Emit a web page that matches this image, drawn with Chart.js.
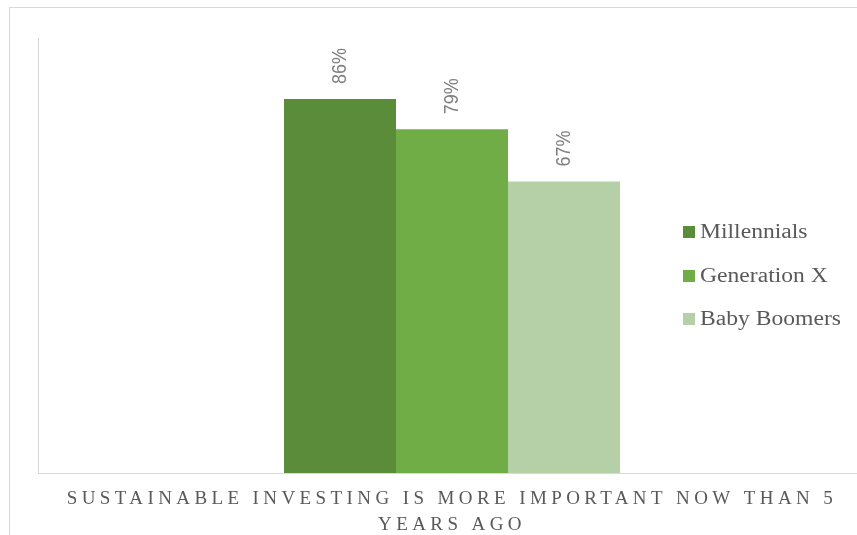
<!DOCTYPE html>
<html>
<head>
<meta charset="utf-8">
<script src="https://cdn.jsdelivr.net/npm/chart.js@4.4.1/dist/chart.umd.min.js"></script>
<style>
  html, body { margin: 0; padding: 0; background: #ffffff; }
  #wrap { position: relative; width: 857px; height: 535px; overflow: hidden; background: #ffffff; }
  #frame { position: absolute; left: 9px; top: 7px; width: 1000px; height: 1000px;
           border-left: 1px solid #d9d9d9; border-top: 1px solid #d9d9d9; box-sizing: border-box; }
  #c { position: absolute; left: 0; top: 0; }
  .lg-box { position: absolute; width: 12px; height: 12px; }
  .lg-text { position: absolute; font-family: "Liberation Serif", "Times New Roman", serif; font-size: 20px;
             line-height: 20px; color: #595959; white-space: nowrap; transform: scaleX(1.18); transform-origin: 0 0; }
</style>
</head>
<body>
<div id="wrap">
  <div id="frame"></div>
  <canvas id="c" width="866" height="552"></canvas>
  <div id="legend"></div>
</div>
<script>
// ---- data ----
const categoryLines = ['SUSTAINABLE INVESTING IS MORE IMPORTANT NOW THAN 5', 'YEARS AGO'];
const seriesNames = ['Millennials', 'Generation X', 'Baby Boomers'];
const millennials = [86];
const generationX = [79];
const babyBoomers = [67];

// ---- styles ----
const seriesColors = ['#5b8c39', '#70ad47', '#b5cfa6'];
const seriesValues = [millennials, generationX, babyBoomers];

// legend (HTML text)
const legendEl = document.getElementById('legend');
const legendBaselines = [238, 281.5, 325];
seriesNames.forEach((name, i) => {
  const box = document.createElement('div');
  box.className = 'lg-box';
  box.style.left = '683px';
  box.style.top = (legendBaselines[i] - 12) + 'px';
  box.style.background = seriesColors[i];
  legendEl.appendChild(box);
  const t = document.createElement('div');
  t.className = 'lg-text';
  t.style.left = '700px';
  t.style.top = (legendBaselines[i] - 16.75) + 'px';
  t.textContent = name;
  legendEl.appendChild(t);
});

const spacingPlugin = {
  id: 'spacing',
  beforeDraw(chart) { chart.ctx.letterSpacing = '4.4px'; },
  beforeDatasetsDraw(chart) { chart.ctx.letterSpacing = '0px'; }
};

const valueLabelPlugin = {
  id: 'valueLabels',
  afterDatasetsDraw(chart) {
    const ctx = chart.ctx;
    ctx.save();
    ctx.letterSpacing = '0px';
    ctx.font = '18px "Liberation Sans", Arial, sans-serif';
    ctx.fillStyle = '#7f7f7f';
    ctx.textAlign = 'left';
    ctx.textBaseline = 'middle';
    chart.data.datasets.forEach((ds, i) => {
      const meta = chart.getDatasetMeta(i);
      meta.data.forEach((bar, j) => {
        ctx.save();
        ctx.translate(bar.x, bar.y - 15);
        ctx.rotate(-Math.PI / 2);
        ctx.scale(1, 1.15);
        ctx.fillText(ds.data[j] + '%', 0, 0);
        ctx.restore();
      });
    });
    ctx.restore();
  }
};

new Chart(document.getElementById('c'), {
  type: 'bar',
  data: {
    labels: [categoryLines],
    datasets: seriesNames.map((name, i) => ({
      label: name,
      data: seriesValues[i],
      backgroundColor: seriesColors[i],
      borderWidth: 0,
      categoryPercentage: 0.4058,
      barPercentage: 1
    }))
  },
  options: {
    responsive: false,
    animation: false,
    devicePixelRatio: 1,
    layout: { padding: { left: 38, top: 38, right: 0, bottom: 0 } },
    plugins: {
      legend: { display: false },
      tooltip: { enabled: false },
      title: { display: false }
    },
    scales: {
      x: {
        grid: { display: false, drawTicks: false },
        border: { display: true, color: '#d9d9d9', width: 1 },
        ticks: {
          color: '#595959',
          font: { family: '"Liberation Serif", "Times New Roman", serif', size: 19, lineHeight: '26px' },
          padding: 13.5,
          maxRotation: 0,
          autoSkip: false
        }
      },
      y: {
        min: 0,
        max: 100,
        grid: { display: false, drawTicks: false },
        border: { display: true, color: '#d9d9d9', width: 1 },
        ticks: { display: false }
      }
    }
  },
  plugins: [spacingPlugin, valueLabelPlugin]
});
</script>
</body>
</html>
